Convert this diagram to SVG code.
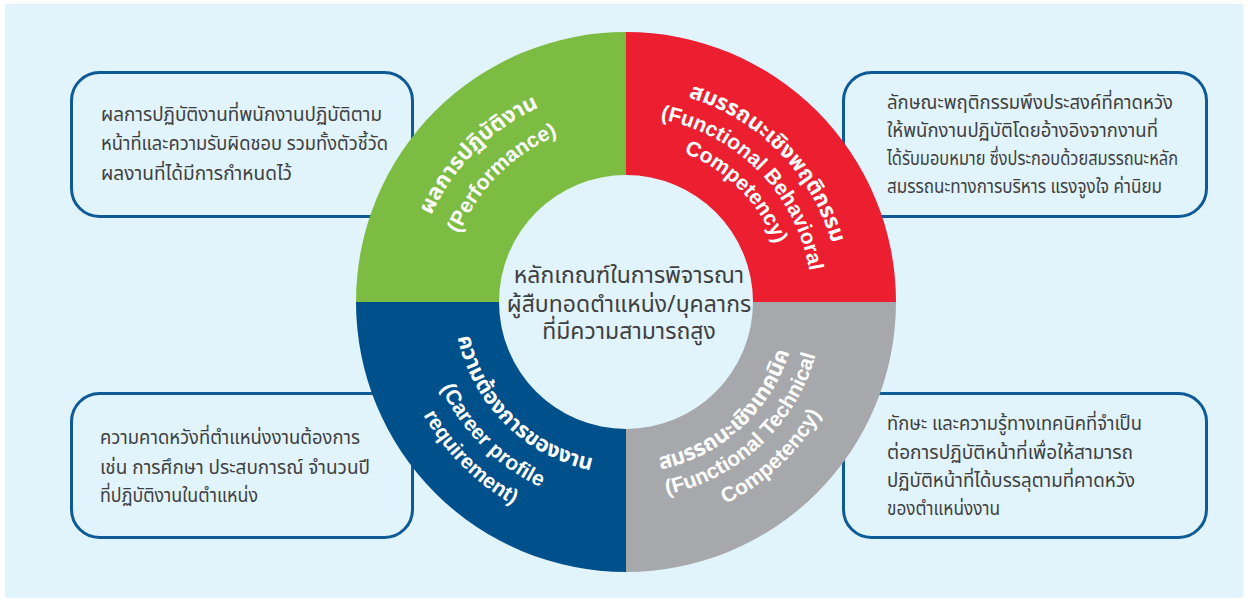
<svg xmlns="http://www.w3.org/2000/svg" width="1248" height="602" viewBox="0 0 1248 602">
<style>
.box{fill:#e1f3fb;stroke:#0d5a96;stroke-width:3}
.bt{font-family:"Noto Sans Thai","Noto Sans","DejaVu Sans",sans-serif;font-size:19px;fill:#3f3f3f}
.ct{font-family:"Noto Sans Thai","Noto Sans","DejaVu Sans",sans-serif;font-size:23px;fill:#3f3f3f;text-anchor:middle}
.ql{font-family:"Liberation Sans","Noto Sans Thai","Noto Sans",sans-serif;font-size:21px;font-weight:bold;fill:#ffffff;text-anchor:middle}
.qt{font-size:22px}
</style>
<defs>
<path id="tG1" d="M 413 302 A 213 213 0 0 1 839 302"/>
<path id="tG2" d="M 446 302 A 180 180 0 0 1 806 302"/>
<path id="tR1" d="M 412 302 A 214 214 0 0 1 840 302"/>
<path id="tR2" d="M 440 302 A 186 186 0 0 1 812 302"/>
<path id="tR3" d="M 466 302 A 160 160 0 0 1 786 302"/>
<path id="bB1" d="M 454 302 A 172 172 0 0 0 798 302"/>
<path id="bB2" d="M 422 302 A 204 204 0 0 0 830 302"/>
<path id="bB3" d="M 394 302 A 232 232 0 0 0 858 302"/>
<path id="bY1" d="M 455 302 A 171 171 0 0 0 797 302"/>
<path id="bY2" d="M 429 302 A 197 197 0 0 0 823 302"/>
<path id="bY3" d="M 401 302 A 225 225 0 0 0 851 302"/>
</defs>
<rect x="0" y="0" width="1248" height="602" fill="#ffffff"/>
<rect x="5" y="4" width="1238" height="594" fill="#e1f3fb"/>

<g id="box-performance">
<rect class="box" x="71.5" y="72.5" width="341" height="144" rx="28"/>
<text class="bt" x="101" y="120.5" textLength="281" lengthAdjust="spacingAndGlyphs">ผลการปฏิบัติงานที่พนักงานปฏิบัติตาม</text>
<text class="bt" x="101" y="150" textLength="287" lengthAdjust="spacingAndGlyphs">หน้าที่และความรับผิดชอบ รวมทั้งตัวชี้วัด</text>
<text class="bt" x="101" y="180" textLength="191" lengthAdjust="spacingAndGlyphs">ผลงานที่ได้มีการกำหนดไว้</text>
</g>
<g id="box-behavioral">
<rect class="box" x="843.5" y="72.5" width="363" height="144" rx="28"/>
<text class="bt" x="887" y="109" textLength="286" lengthAdjust="spacingAndGlyphs">ลักษณะพฤติกรรมพึงประสงค์ที่คาดหวัง</text>
<text class="bt" x="887" y="137" textLength="271" lengthAdjust="spacingAndGlyphs">ให้พนักงานปฏิบัติโดยอ้างอิงจากงานที่</text>
<text class="bt" x="887" y="165" textLength="291" lengthAdjust="spacingAndGlyphs">ได้รับมอบหมาย ซึ่งประกอบด้วยสมรรถนะหลัก</text>
<text class="bt" x="887" y="193" textLength="275" lengthAdjust="spacingAndGlyphs">สมรรถนะทางการบริหาร แรงจูงใจ ค่านิยม</text>
</g>
<g id="box-career">
<rect class="box" x="71.5" y="393.5" width="341" height="144" rx="28"/>
<text class="bt" x="100" y="444" textLength="260" lengthAdjust="spacingAndGlyphs">ความคาดหวังที่ตำแหน่งงานต้องการ</text>
<text class="bt" x="100" y="473.5" textLength="270" lengthAdjust="spacingAndGlyphs">เช่น การศึกษา ประสบการณ์ จำนวนปี</text>
<text class="bt" x="100" y="502" textLength="158" lengthAdjust="spacingAndGlyphs">ที่ปฏิบัติงานในตำแหน่ง</text>
</g>
<g id="box-technical">
<rect class="box" x="843.5" y="393.5" width="363" height="144" rx="28"/>
<text class="bt" x="887" y="430" textLength="255" lengthAdjust="spacingAndGlyphs">ทักษะ และความรู้ทางเทคนิคที่จำเป็น</text>
<text class="bt" x="887" y="458.5" textLength="246" lengthAdjust="spacingAndGlyphs">ต่อการปฏิบัติหน้าที่เพื่อให้สามารถ</text>
<text class="bt" x="887" y="487" textLength="248" lengthAdjust="spacingAndGlyphs">ปฏิบัติหน้าที่ได้บรรลุตามที่คาดหวัง</text>
<text class="bt" x="887" y="515" textLength="113" lengthAdjust="spacingAndGlyphs">ของตำแหน่งงาน</text>
</g>

<g id="q-performance">
<path fill="#7dbc43" d="M 356 302 A 270 270 0 0 1 626 32 L 626 175 A 127 127 0 0 0 499 302 Z"/>
<text class="ql qt"><textPath href="#tG1" startOffset="25%">ผลการปฏิบัติงาน</textPath></text>
<text class="ql"><textPath href="#tG2" startOffset="25%">(Performance)</textPath></text>
</g>
<g id="q-behavioral">
<path fill="#ec1f30" d="M 626 32 A 270 270 0 0 1 896 302 L 753 302 A 127 127 0 0 0 626 175 Z"/>
<text class="ql qt"><textPath href="#tR1" startOffset="75.3%">สมรรถนะเชิงพฤติกรรม</textPath></text>
<text class="ql"><textPath href="#tR2" startOffset="75.3%">(Functional Behavioral</textPath></text>
<text class="ql"><textPath href="#tR3" startOffset="75%">Competency)</textPath></text>
</g>
<g id="q-technical">
<path fill="#a7a8ab" d="M 896 302 A 270 270 0 0 1 626 572 L 626 429 A 127 127 0 0 0 753 302 Z"/>
<text class="ql qt"><textPath href="#bY1" startOffset="73.5%">สมรรถนะเชิงเทคนิค</textPath></text>
<text class="ql"><textPath href="#bY2" startOffset="74%">(Functional Technical</textPath></text>
<text class="ql"><textPath href="#bY3" startOffset="74%">Competency)</textPath></text>
</g>
<g id="q-career">
<path fill="#00508b" d="M 626 572 A 270 270 0 0 1 356 302 L 499 302 A 127 127 0 0 0 626 429 Z"/>
<text class="ql qt"><textPath href="#bB1" startOffset="25%">ความต้องการของงาน</textPath></text>
<text class="ql"><textPath href="#bB2" startOffset="25%">(Career profile</textPath></text>
<text class="ql"><textPath href="#bB3" startOffset="25%">requirement)</textPath></text>
</g>

<g id="center">
<text class="ct" x="629" y="283">หลักเกณฑ์ในการพิจารณา</text>
<text class="ct" x="629" y="312">ผู้สืบทอดตำแหน่ง/บุคลากร</text>
<text class="ct" x="629" y="339">ที่มีความสามารถสูง</text>
</g>
<g id="connectors"></g>
</svg>
